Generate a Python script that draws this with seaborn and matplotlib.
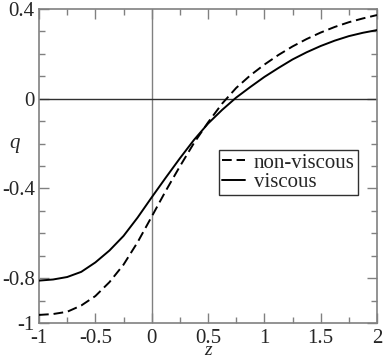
import matplotlib
matplotlib.use('Agg')
import matplotlib.pyplot as plt
import seaborn as sns
import pandas as pd
from matplotlib.ticker import MultipleLocator, FixedLocator

# values
z = [-1, -0.875, -0.75, -0.625, -0.5, -0.375, -0.25, -0.125, 0, 0.125, 0.25, 0.375,
     0.5, 0.625, 0.75, 0.875, 1, 1.125, 1.25, 1.375, 1.5, 1.625, 1.75, 1.875, 2]
qNonViscous = [-0.964, -0.960, -0.950, -0.922, -0.880, -0.818, -0.740, -0.640, -0.526, -0.411,
               -0.302, -0.198, -0.106, -0.022, 0.048, 0.104, 0.152, 0.195, 0.233, 0.266,
               0.295, 0.320, 0.341, 0.358, 0.373]
qViscous = [-0.811, -0.806, -0.795, -0.772, -0.730, -0.677, -0.612, -0.530, -0.440, -0.352,
            -0.266, -0.184, -0.111, -0.050, 0.005, 0.052, 0.097, 0.137, 0.175, 0.207,
            0.235, 0.259, 0.279, 0.294, 0.306]
yTicks = [-1, -0.8, -0.4, 0, 0.4]
yTickLabels = ['-1', '-0.8', '-0.4', '0', '0.4']
xTicks = [-1, -0.5, 0, 0.5, 1, 1.5, 2]
xTickLabels = ['-1', '-0.5', '0', '0.5', '1', '1.5', '2']

df = pd.DataFrame({
    'z': z + z,
    'q': qNonViscous + qViscous,
    'Type': ['non-viscous'] * len(z) + ['viscous'] * len(z)
})

sns.set_style('ticks')
plt.rcParams['font.family'] = ['Liberation Serif', 'DejaVu Serif']
plt.rcParams['axes.unicode_minus'] = False

fig = plt.figure(figsize=(3.84, 3.6), dpi=100)
ax = fig.add_axes([39 / 384, 1 - 323 / 360, 338 / 384, 314 / 360])

# reference lines through the origin
ax.axvline(0, color='#808080', lw=1.0, zorder=1)
ax.axhline(0, color='#303030', lw=1.0, zorder=1)

sns.lineplot(data=df, x='z', y='q', style='Type', color='black', lw=1.4,
             dashes={'non-viscous': (5, 2.5), 'viscous': ''},
             estimator=None, sort=False, ax=ax, zorder=3)

ax.set_xlim(-1, 2)
ax.set_ylim(-1, 0.4)
ax.xaxis.set_major_locator(FixedLocator(xTicks))
ax.set_xticklabels(xTickLabels)
ax.xaxis.set_minor_locator(MultipleLocator(0.25))
ax.yaxis.set_major_locator(FixedLocator(yTicks))
ax.set_yticklabels(yTickLabels)
ax.yaxis.set_minor_locator(MultipleLocator(0.1))

ax.tick_params(which='both', direction='in', top=True, right=True, color='#808080',
               labelsize=15)
ax.tick_params(axis='x', pad=4)
ax.tick_params(axis='y', pad=3)
ax.tick_params(which='major', length=7, width=1)
ax.tick_params(which='minor', length=4, width=1)
for s in ax.spines.values():
    s.set_color('#808080')
    s.set_linewidth(1.2)

ax.set_xlabel('z', fontsize=14, style='italic', va='bottom')
ax.set_ylabel('q', fontsize=15, style='italic', rotation=0)
ax.xaxis.set_label_coords(0.5, -36 / 314)
ax.yaxis.set_label_coords(-0.071, 0.54)

leg = ax.legend(loc='upper left', bbox_to_anchor=(0.533, 0.551), borderaxespad=0,
                fontsize=15, handlelength=1.1, handletextpad=0.4, labelspacing=0.0,
                borderpad=0.15, fancybox=False, framealpha=1, edgecolor='#303030')
leg.get_frame().set_linewidth(1.0)

fig.savefig('out.png', dpi=100)
